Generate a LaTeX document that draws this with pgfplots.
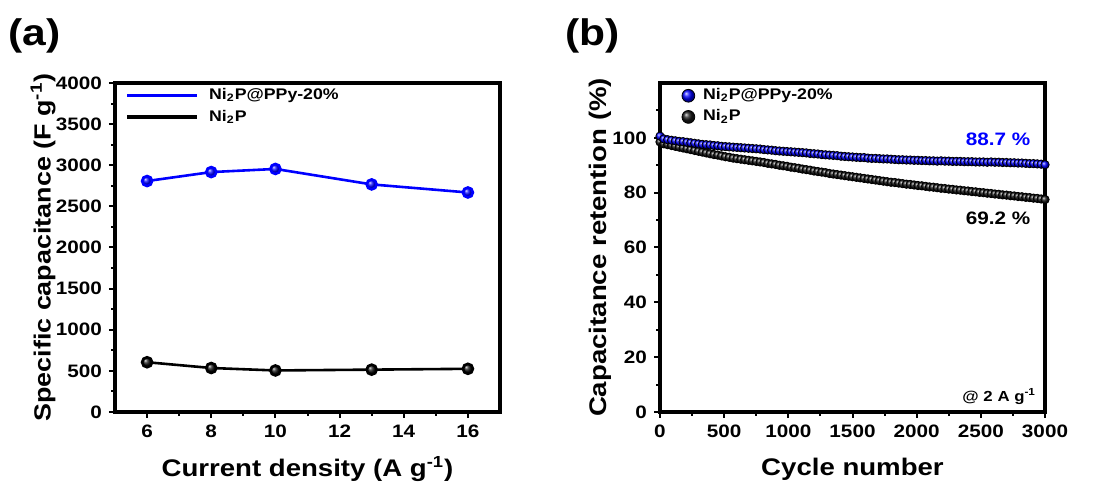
\documentclass[border=0pt]{standalone}
\usepackage{fontspec}
\setmainfont{Liberation Sans}[FakeStretch=1.15]
\usepackage{pgfplots}
\pgfplotsset{compat=1.18}

\pgfplotsset{
  panel/.style={
    scale only axis,
    width=192.5pt, height=164.5pt,
    axis line style={line width=1.6pt},
    tick style={line width=1pt, black},
    tick align=outside,
    xtick pos=bottom, ytick pos=left,
    major tick length=3pt, minor tick length=1.8pt,
    tick label style={font=\bfseries\fontsize{9}{10}\selectfont},
    /pgf/number format/assume math mode=true,
    /pgf/number format/set thousands separator={},
    label style={font=\bfseries\fontsize{12}{14}\selectfont},
    xlabel style={at={(axis description cs:0.5,-0.173)}, anchor=center},
    legend cell align=left,
    legend style={draw=none, fill=none, inner xsep=0pt, inner ysep=0pt,
      font=\bfseries\fontsize{7.7}{9}\selectfont, row sep=1.5pt,
      nodes={inner xsep=2pt, inner ysep=1pt}},
  },
}

\begin{document}
\begin{tikzpicture}
\useasboundingbox (-57.5pt,-37pt) rectangle (494pt,206pt);

% (a) rate capability
\begin{axis}[panel,
    at={(0,0)},
    xmin=5, xmax=17, ymin=0, ymax=4000,
    xtick={6,8,...,16}, minor xtick={7,9,...,15},
    ytick={0,500,...,4000}, minor ytick={250,750,...,3750},
    xlabel={Current density (A g\textsuperscript{-1})},
    ylabel={Specific capacitance (F g\textsuperscript{-1})},
    ylabel style={at={(axis description cs:-0.187,0.5)}, anchor=center, font=\bfseries\fontsize{11.7}{14}\selectfont},
    legend style={at={(axis description cs:0.027,0.99)}, anchor=north west,
      /tikz/every odd column/.append style={column sep=3pt}},
    legend image code/.code={\draw[#1] (0pt,0pt) -- (35pt,0pt);},
]
\addlegendimage{blue, line width=1.7pt}
\addlegendentry{Ni\textsubscript{2}P@PPy-20\%}
\addlegendimage{black, line width=1.7pt}
\addlegendentry{Ni\textsubscript{2}P}
\addplot[blue, line width=1.3pt, mark=ball, mark size=2.5pt, mark options={ball color=blue}, forget plot]
  coordinates {(6,2808) (8,2917) (10,2955) (13,2767) (16,2669)};
\addplot[black, line width=1.3pt, mark=ball, mark size=2.5pt, mark options={ball color=black!90}, forget plot]
  coordinates {(6,605) (8,535) (10,505) (13,515) (16,525)};
\end{axis}

% (b) cycling stability
\begin{axis}[panel,
    at={(272.5pt,0)},
    xmin=0, xmax=3000, ymin=0, ymax=120,
    xtick={0,500,...,3000}, minor xtick={250,750,...,2750},
    ytick={0,20,...,100}, minor ytick={10,30,...,110},
    xlabel={Cycle number},
    ylabel={Capacitance retention (\%)},
    ylabel style={at={(axis description cs:-0.156,0.5)}, anchor=center},
    legend style={at={(axis description cs:0.055,0.99)}, anchor=north west,
      /tikz/every odd column/.append style={column sep=2pt}},
    legend image code/.code={\draw[#1] plot coordinates {(0pt,0pt)};},
]
\addlegendimage{only marks, mark=ball, mark size=3.2pt, mark options={ball color=blue}}
\addlegendentry{Ni\textsubscript{2}P@PPy-20\%}
\addlegendimage{only marks, mark=ball, mark size=3.2pt, mark options={ball color=black!90}}
\addlegendentry{Ni\textsubscript{2}P}
\addplot[only marks, mark=ball, mark size=2.1pt, mark options={ball color=black!90}, forget plot] coordinates {
(0,98.5) (30,97.8) (60,97.5) (90,97.2) (120,96.9) (150,96.6) (180,96.3) (210,96.0) (240,95.7) (270,95.4)
(300,95.1) (330,94.8) (360,94.5) (390,94.2) (420,93.9) (450,93.7) (480,93.4) (510,93.1) (540,92.9) (570,92.6)
(600,92.4) (630,92.2) (660,92.0) (690,91.8) (720,91.6) (750,91.4) (780,91.2) (810,91.0) (840,90.7) (870,90.5)
(900,90.3) (930,90.0) (960,89.8) (990,89.6) (1020,89.3) (1050,89.1) (1080,88.9) (1110,88.6) (1140,88.4) (1170,88.2)
(1200,87.9) (1230,87.7) (1260,87.5) (1290,87.3) (1320,87.0) (1350,86.8) (1380,86.6) (1410,86.4) (1440,86.2) (1470,86.0)
(1500,85.8) (1530,85.6) (1560,85.4) (1590,85.2) (1620,85.0) (1650,84.8) (1680,84.6) (1710,84.4) (1740,84.2) (1770,84.0)
(1800,83.8) (1830,83.7) (1860,83.5) (1890,83.3) (1920,83.1) (1950,83.0) (1980,82.8) (2010,82.6) (2040,82.5) (2070,82.3)
(2100,82.1) (2130,82.0) (2160,81.8) (2190,81.6) (2220,81.5) (2250,81.3) (2280,81.2) (2310,81.0) (2340,80.9) (2370,80.7)
(2400,80.6) (2430,80.4) (2460,80.3) (2490,80.1) (2520,80.0) (2550,79.8) (2580,79.7) (2610,79.5) (2640,79.4) (2670,79.2)
(2700,79.1) (2730,78.9) (2760,78.8) (2790,78.6) (2820,78.5) (2850,78.3) (2880,78.2) (2910,78.0) (2940,77.9) (2970,77.7)
(3000,77.5)
};
\addplot[only marks, mark=ball, mark size=2.1pt, mark options={ball color=blue}, forget plot] coordinates {
(0,100.6) (30,99.6) (60,99.3) (90,99.1) (120,98.9) (150,98.7) (180,98.6) (210,98.4) (240,98.2) (270,98.0)
(300,97.8) (330,97.6) (360,97.5) (390,97.4) (420,97.2) (450,97.1) (480,96.9) (510,96.8) (540,96.7) (570,96.6)
(600,96.5) (630,96.4) (660,96.3) (690,96.2) (720,96.1) (750,96.0) (780,95.9) (810,95.7) (840,95.6) (870,95.5)
(900,95.3) (930,95.2) (960,95.1) (990,95.0) (1020,94.9) (1050,94.8) (1080,94.7) (1110,94.6) (1140,94.5) (1170,94.3)
(1200,94.2) (1230,94.1) (1260,93.9) (1290,93.8) (1320,93.7) (1350,93.6) (1380,93.5) (1410,93.3) (1440,93.2) (1470,93.1)
(1500,93.0) (1530,92.9) (1560,92.8) (1590,92.8) (1620,92.6) (1650,92.5) (1680,92.5) (1710,92.4) (1740,92.3) (1770,92.3)
(1800,92.2) (1830,92.1) (1860,92.0) (1890,92.0) (1920,91.9) (1950,91.9) (1980,91.8) (2010,91.8) (2040,91.7) (2070,91.7)
(2100,91.6) (2130,91.6) (2160,91.5) (2190,91.6) (2220,91.5) (2250,91.5) (2280,91.4) (2310,91.4) (2340,91.4) (2370,91.3)
(2400,91.3) (2430,91.3) (2460,91.2) (2490,91.2) (2520,91.2) (2550,91.1) (2580,91.2) (2610,91.1) (2640,91.1) (2670,91.0)
(2700,91.0) (2730,90.9) (2760,90.9) (2790,90.8) (2820,90.8) (2850,90.7) (2880,90.6) (2910,90.6) (2940,90.5) (2970,90.4)
(3000,90.2)
};
\node[anchor=east, blue, font=\bfseries\fontsize{9}{10}\selectfont] at (axis cs:2940,99.3) {88.7 \%};
\node[anchor=east, black, font=\bfseries\fontsize{9}{10}\selectfont] at (axis cs:2940,70.8) {69.2 \%};
\node[anchor=east, black, font=\bfseries\fontsize{7.3}{8}\selectfont] at (axis cs:2985,5.7) {@ 2 A g\textsuperscript{-1}};
\end{axis}

\node[anchor=west, inner sep=0pt, font=\bfseries\fontsize{18.5}{22}\selectfont] at (-53.5pt,188pt) {(a)};
\node[anchor=west, inner sep=0pt, font=\bfseries\fontsize{18.5}{22}\selectfont] at (225pt,188pt) {(b)};
\end{tikzpicture}
\end{document}
